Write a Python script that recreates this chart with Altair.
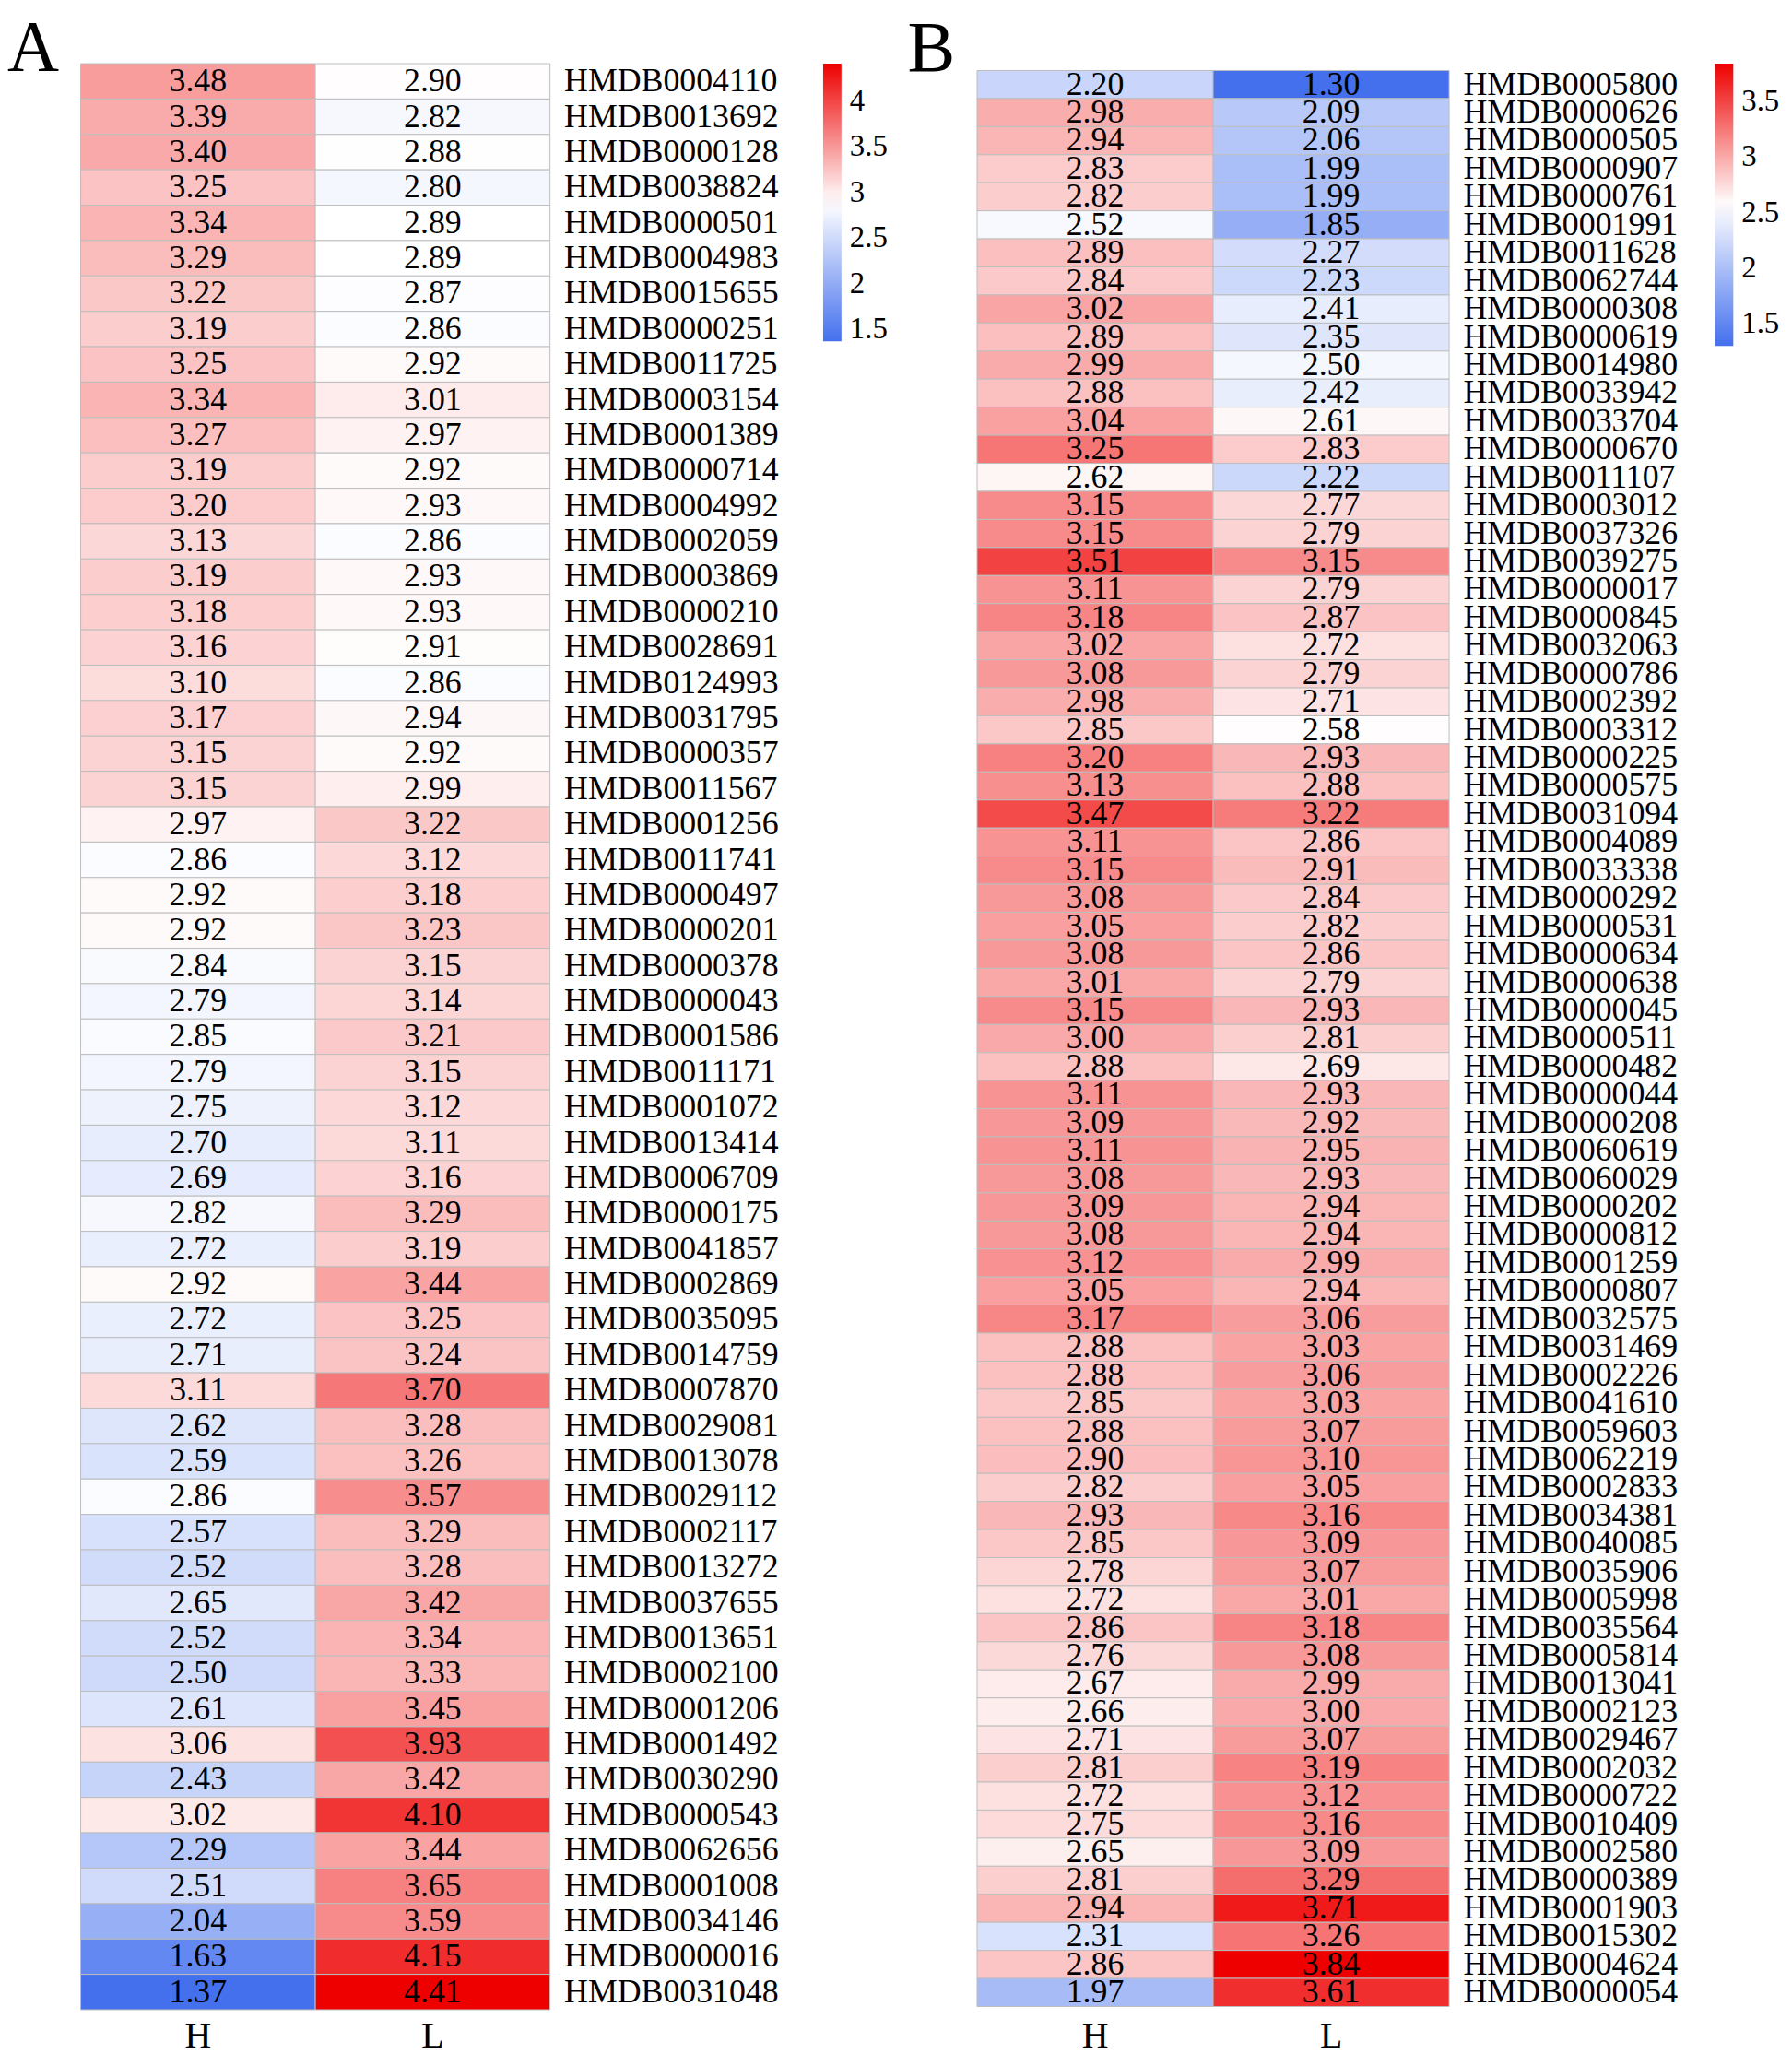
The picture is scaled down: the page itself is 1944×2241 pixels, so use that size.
import altair as alt
import pandas as pd

FONT = "Liberation Serif"
BLUE = "#4470EE"
RED = "#EE0000"

# ---------------- Panel A ----------------
ids_a = ["HMDB0004110", "HMDB0013692", "HMDB0000128", "HMDB0038824", "HMDB0000501",
         "HMDB0004983", "HMDB0015655", "HMDB0000251", "HMDB0011725", "HMDB0003154",
         "HMDB0001389", "HMDB0000714", "HMDB0004992", "HMDB0002059", "HMDB0003869",
         "HMDB0000210", "HMDB0028691", "HMDB0124993", "HMDB0031795", "HMDB0000357",
         "HMDB0011567", "HMDB0001256", "HMDB0011741", "HMDB0000497", "HMDB0000201",
         "HMDB0000378", "HMDB0000043", "HMDB0001586", "HMDB0011171", "HMDB0001072",
         "HMDB0013414", "HMDB0006709", "HMDB0000175", "HMDB0041857", "HMDB0002869",
         "HMDB0035095", "HMDB0014759", "HMDB0007870", "HMDB0029081", "HMDB0013078",
         "HMDB0029112", "HMDB0002117", "HMDB0013272", "HMDB0037655", "HMDB0013651",
         "HMDB0002100", "HMDB0001206", "HMDB0001492", "HMDB0030290", "HMDB0000543",
         "HMDB0062656", "HMDB0001008", "HMDB0034146", "HMDB0000016", "HMDB0031048"]
h_a = [3.48, 3.39, 3.40, 3.25, 3.34, 3.29, 3.22, 3.19, 3.25, 3.34,
       3.27, 3.19, 3.20, 3.13, 3.19, 3.18, 3.16, 3.10, 3.17, 3.15,
       3.15, 2.97, 2.86, 2.92, 2.92, 2.84, 2.79, 2.85, 2.79, 2.75,
       2.70, 2.69, 2.82, 2.72, 2.92, 2.72, 2.71, 3.11, 2.62, 2.59,
       2.86, 2.57, 2.52, 2.65, 2.52, 2.50, 2.61, 3.06, 2.43, 3.02,
       2.29, 2.51, 2.04, 1.63, 1.37]
l_a = [2.90, 2.82, 2.88, 2.80, 2.89, 2.89, 2.87, 2.86, 2.92, 3.01,
       2.97, 2.92, 2.93, 2.86, 2.93, 2.93, 2.91, 2.86, 2.94, 2.92,
       2.99, 3.22, 3.12, 3.18, 3.23, 3.15, 3.14, 3.21, 3.15, 3.12,
       3.11, 3.16, 3.29, 3.19, 3.44, 3.25, 3.24, 3.70, 3.28, 3.26,
       3.57, 3.29, 3.28, 3.42, 3.34, 3.33, 3.45, 3.93, 3.42, 4.10,
       3.44, 3.65, 3.59, 4.15, 4.41]

# ---------------- Panel B ----------------
ids_b = ["HMDB0005800", "HMDB0000626", "HMDB0000505", "HMDB0000907", "HMDB0000761",
         "HMDB0001991", "HMDB0011628", "HMDB0062744", "HMDB0000308", "HMDB0000619",
         "HMDB0014980", "HMDB0033942", "HMDB0033704", "HMDB0000670", "HMDB0011107",
         "HMDB0003012", "HMDB0037326", "HMDB0039275", "HMDB0000017", "HMDB0000845",
         "HMDB0032063", "HMDB0000786", "HMDB0002392", "HMDB0003312", "HMDB0000225",
         "HMDB0000575", "HMDB0031094", "HMDB0004089", "HMDB0033338", "HMDB0000292",
         "HMDB0000531", "HMDB0000634", "HMDB0000638", "HMDB0000045", "HMDB0000511",
         "HMDB0000482", "HMDB0000044", "HMDB0000208", "HMDB0060619", "HMDB0060029",
         "HMDB0000202", "HMDB0000812", "HMDB0001259", "HMDB0000807", "HMDB0032575",
         "HMDB0031469", "HMDB0002226", "HMDB0041610", "HMDB0059603", "HMDB0062219",
         "HMDB0002833", "HMDB0034381", "HMDB0040085", "HMDB0035906", "HMDB0005998",
         "HMDB0035564", "HMDB0005814", "HMDB0013041", "HMDB0002123", "HMDB0029467",
         "HMDB0002032", "HMDB0000722", "HMDB0010409", "HMDB0002580", "HMDB0000389",
         "HMDB0001903", "HMDB0015302", "HMDB0004624", "HMDB0000054"]
h_b = [2.20, 2.98, 2.94, 2.83, 2.82, 2.52, 2.89, 2.84, 3.02, 2.89,
       2.99, 2.88, 3.04, 3.25, 2.62, 3.15, 3.15, 3.51, 3.11, 3.18,
       3.02, 3.08, 2.98, 2.85, 3.20, 3.13, 3.47, 3.11, 3.15, 3.08,
       3.05, 3.08, 3.01, 3.15, 3.00, 2.88, 3.11, 3.09, 3.11, 3.08,
       3.09, 3.08, 3.12, 3.05, 3.17, 2.88, 2.88, 2.85, 2.88, 2.90,
       2.82, 2.93, 2.85, 2.78, 2.72, 2.86, 2.76, 2.67, 2.66, 2.71,
       2.81, 2.72, 2.75, 2.65, 2.81, 2.94, 2.31, 2.86, 1.97]
l_b = [1.30, 2.09, 2.06, 1.99, 1.99, 1.85, 2.27, 2.23, 2.41, 2.35,
       2.50, 2.42, 2.61, 2.83, 2.22, 2.77, 2.79, 3.15, 2.79, 2.87,
       2.72, 2.79, 2.71, 2.58, 2.93, 2.88, 3.22, 2.86, 2.91, 2.84,
       2.82, 2.86, 2.79, 2.93, 2.81, 2.69, 2.93, 2.92, 2.95, 2.93,
       2.94, 2.94, 2.99, 2.94, 3.06, 3.03, 3.06, 3.03, 3.07, 3.10,
       3.05, 3.16, 3.09, 3.07, 3.01, 3.18, 3.08, 2.99, 3.00, 3.07,
       3.19, 3.12, 3.16, 3.09, 3.29, 3.71, 3.26, 3.84, 3.61]

groups = ["H", "L"]
legend_ticks_a = [1.5, 2, 2.5, 3, 3.5, 4]
legend_ticks_b = [1.5, 2, 2.5, 3, 3.5]


def to_long(ids, h, l):
    rows = []
    for name, hv, lv in zip(ids, h, l):
        rows.append({"id": name, "group": "H", "value": hv})
        rows.append({"id": name, "group": "L", "value": lv})
    return pd.DataFrame(rows)


def panel(ids, h, l, letter, width, height, y_pad_outer, title_dx,
          legend_x, legend_len, legend_vals, x_label_pad):
    df = to_long(ids, h, l)
    vals = h + l
    lo, hi = min(vals), max(vals)
    mid = (lo + hi) / 2
    base = alt.Chart(df).encode(
        x=alt.X("group:N", sort=groups,
                scale=alt.Scale(paddingInner=0, paddingOuter=0),
                axis=alt.Axis(title=None, orient="bottom", ticks=False, tickSize=0,
                              domain=False, labelAngle=0, labelFont=FONT,
                              labelFontSize=40, labelColor="black",
                              labelPadding=x_label_pad)),
        y=alt.Y("id:N", sort=ids,
                scale=alt.Scale(paddingInner=0, paddingOuter=y_pad_outer),
                axis=alt.Axis(title=None, orient="right", ticks=False, tickSize=0,
                              domain=False, labelFont=FONT, labelFontSize=36,
                              labelColor="black", labelPadding=15, labelLimit=0)),
    )
    rect = base.mark_rect(stroke="#bdbdbd", strokeWidth=1).encode(
        color=alt.Color(
            "value:Q",
            scale=alt.Scale(domain=[lo, mid, hi], range=[BLUE, "#FFFFFF", RED],
                            interpolate="rgb"),
            legend=alt.Legend(
                title=None, orient="none", legendX=legend_x, legendY=0,
                direction="vertical", gradientLength=legend_len,
                gradientThickness=20, gradientStrokeWidth=0,
                values=legend_vals, format="~g",
                labelFont=FONT, labelFontSize=33, labelColor="black",
                labelOffset=9, labelOverlap=False, labelBaseline="top"),
        )
    )
    text = base.mark_text(font=FONT, fontSize=36, color="black").encode(
        text=alt.Text("value:Q", format=".2f")
    )
    return alt.layer(rect, text).properties(
        width=width, height=height,
        title=alt.TitleParams(letter, anchor="start", frame="group", dx=title_dx,
                              fontSize=78, font=FONT, fontWeight="normal",
                              color="black", offset=-86, baseline="alphabetic"),
    )


pa = panel(ids_a, h_a, l_a, "A", 512, 2123, 0, -80, 810, 303, legend_ticks_a, 9)
pb = panel(ids_b, h_b, l_b, "B", 515, 2127, 0.245, -76, 805, 308, legend_ticks_b, 5)

chart = alt.hconcat(pa, pb, spacing=466, bounds="flush").resolve_scale(
    color="independent", x="independent", y="independent"
).resolve_legend(color="independent").properties(
    padding={"left": 0, "top": 0, "right": 5, "bottom": 0}
).configure_view(stroke=None)

chart.save("out.html", embed_options={"renderer": "svg", "actions": False})
